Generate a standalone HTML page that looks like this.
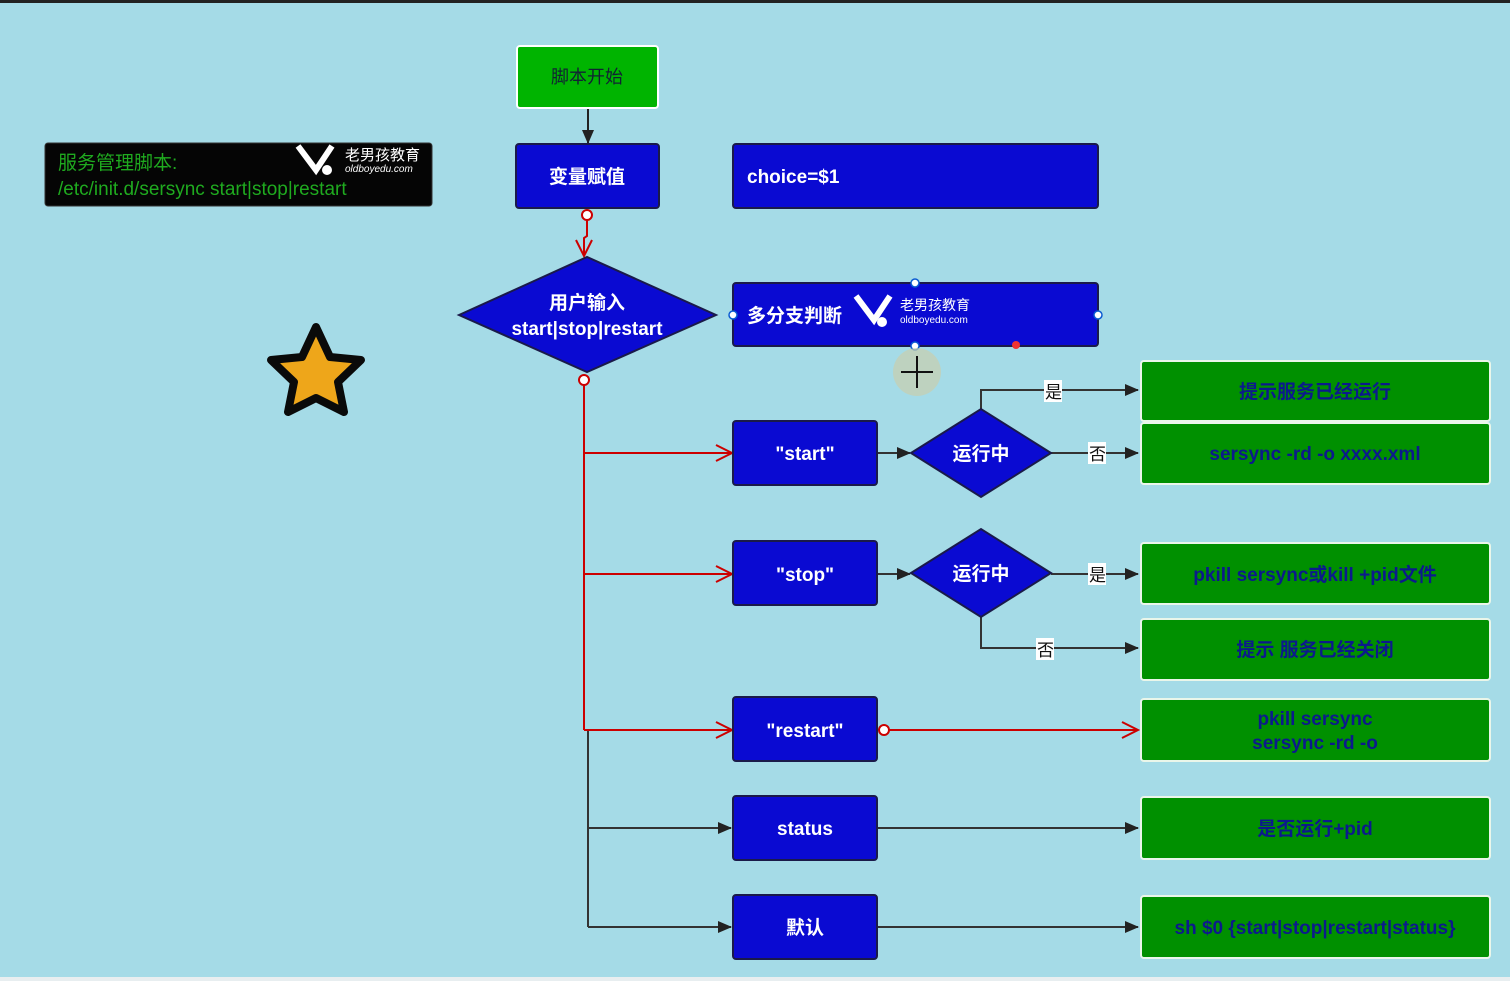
<!DOCTYPE html>
<html><head><meta charset="utf-8"><style>
body{margin:0;width:1510px;height:981px;overflow:hidden;background:#a5dbe7}
svg{display:block}
text{font-family:"Liberation Sans","Noto Sans CJK SC",sans-serif;font-weight:bold}
text.n{font-weight:normal}
</style></head><body>
<svg width="1510" height="981" viewBox="0 0 1510 981">
<defs>
<marker id="ab" markerWidth="14" markerHeight="12" refX="13" refY="6" orient="auto" markerUnits="userSpaceOnUse"><path d="M0,0 L14,6 L0,12 z" fill="#222"/></marker>
<marker id="ar" markerWidth="20" markerHeight="20" refX="18" refY="10" orient="auto" markerUnits="userSpaceOnUse"><path d="M2,2 L18,10 L2,18" fill="none" stroke="#c00" stroke-width="2"/></marker>
</defs>
<rect x="0" y="0" width="1510" height="981" fill="#a5dbe7"/>
<rect x="0" y="0" width="1510" height="3" fill="#222"/>
<rect x="0" y="977" width="1510" height="4" fill="#e8eef0"/>

<rect x="45" y="143" width="387" height="63" rx="3" fill="#050505" stroke="#333"/>
<text class="n" x="58" y="169" font-size="19" fill="#1faa1f">服务管理脚本:</text>
<text class="n" x="58" y="195" font-size="19" fill="#1faa1f">/etc/init.d/sersync start|stop|restart</text>
<path d="M298,146 L316,170 L332,146" fill="none" stroke="#fff" stroke-width="6"/>
<circle cx="327" cy="170" r="5" fill="#fff"/>
<text class="n" x="345" y="160" font-size="15" fill="#fff">老男孩教育</text>
<text class="n" x="345" y="172" font-size="10" fill="#fff" font-style="italic">oldboyedu.com</text>

<path d="M316,327 L330,357 L361,360 L338,382 L344,412 L316,398 L288,412 L294,382 L271,360 L302,357 z" fill="#eea61a" stroke="#0a0a0a" stroke-width="8" stroke-linejoin="round"/>

<line x1="588" y1="108" x2="588" y2="143" stroke="#222" stroke-width="2" marker-end="url(#ab)"/>
<path d="M587,219 L587,236 L584,238 L584,256" fill="none" stroke="#c00" stroke-width="2" marker-end="url(#ar)"/>
<circle cx="587" cy="215" r="5" fill="#fff" stroke="#c00" stroke-width="2"/>
<line x1="584" y1="385" x2="584" y2="730" stroke="#c00" stroke-width="2"/>
<line x1="588" y1="730" x2="588" y2="927" stroke="#333" stroke-width="2"/>
<circle cx="584" cy="380" r="5" fill="#fff" stroke="#c00" stroke-width="2"/>
<line x1="584" y1="453" x2="732" y2="453" stroke="#c00" stroke-width="2" marker-end="url(#ar)"/>
<line x1="584" y1="574" x2="732" y2="574" stroke="#c00" stroke-width="2" marker-end="url(#ar)"/>
<line x1="584" y1="730" x2="732" y2="730" stroke="#c00" stroke-width="2" marker-end="url(#ar)"/>
<line x1="588" y1="828" x2="731" y2="828" stroke="#333" stroke-width="2" marker-end="url(#ab)"/>
<line x1="588" y1="927" x2="731" y2="927" stroke="#333" stroke-width="2" marker-end="url(#ab)"/>
<line x1="877" y1="453" x2="910" y2="453" stroke="#333" stroke-width="2" marker-end="url(#ab)"/>
<line x1="877" y1="574" x2="910" y2="574" stroke="#333" stroke-width="2" marker-end="url(#ab)"/>
<path d="M981,409 L981,390 L1138,390" fill="none" stroke="#333" stroke-width="2" marker-end="url(#ab)"/>
<line x1="1051" y1="453" x2="1138" y2="453" stroke="#333" stroke-width="2" marker-end="url(#ab)"/>
<line x1="1051" y1="574" x2="1138" y2="574" stroke="#333" stroke-width="2" marker-end="url(#ab)"/>
<path d="M981,617 L981,648 L1138,648" fill="none" stroke="#333" stroke-width="2" marker-end="url(#ab)"/>
<line x1="889" y1="730" x2="1138" y2="730" stroke="#c00" stroke-width="2" marker-end="url(#ar)"/>
<circle cx="884" cy="730" r="5" fill="#fff" stroke="#c00" stroke-width="2"/>
<line x1="877" y1="828" x2="1138" y2="828" stroke="#333" stroke-width="2" marker-end="url(#ab)"/>
<line x1="877" y1="927" x2="1138" y2="927" stroke="#333" stroke-width="2" marker-end="url(#ab)"/>
<g font-size="17" fill="#111">
<rect x="1044" y="380" width="18" height="22" fill="#fff"/><text class="n" x="1045" y="398">是</text>
<rect x="1088" y="442" width="18" height="22" fill="#fff"/><text class="n" x="1089" y="460">否</text>
<rect x="1088" y="563" width="18" height="22" fill="#fff"/><text class="n" x="1089" y="581">是</text>
<rect x="1036" y="638" width="18" height="22" fill="#fff"/><text class="n" x="1037" y="656">否</text>
</g>

<rect x="517" y="46" width="141" height="62" rx="3" fill="#00b400" stroke="#fff" stroke-width="2"/>
<text class="n" x="587" y="83" font-size="18" fill="#123" text-anchor="middle">脚本开始</text>

<g fill="#0a0ad2" stroke="#1a1a4a" stroke-width="2">
<rect x="516" y="144" width="143" height="64" rx="3"/>
<rect x="733" y="144" width="365" height="64" rx="3"/>
<path d="M459,315 L587,257 L716,315 L587,372 z"/>
<rect x="733" y="283" width="365" height="63" rx="3"/>
<rect x="733" y="421" width="144" height="64" rx="3"/>
<path d="M911,453 L981,409 L1051,453 L981,497 z"/>
<rect x="733" y="541" width="144" height="64" rx="3"/>
<path d="M911,573 L981,529 L1051,573 L981,617 z"/>
<rect x="733" y="697" width="144" height="64" rx="3"/>
<rect x="733" y="796" width="144" height="64" rx="3"/>
<rect x="733" y="895" width="144" height="64" rx="3"/>
</g>
<g fill="#fff" font-size="19" text-anchor="middle">
<text x="587" y="183">变量赋值</text>
<text x="747" y="183" text-anchor="start">choice=$1</text>
<text x="587" y="309">用户输入</text>
<text x="587" y="335">start|stop|restart</text>
<text x="747" y="322" text-anchor="start">多分支判断</text>
<text x="805" y="460">"start"</text>
<text x="981" y="460">运行中</text>
<text x="805" y="581">"stop"</text>
<text x="981" y="580">运行中</text>
<text x="805" y="737">"restart"</text>
<text x="805" y="835">status</text>
<text x="805" y="934">默认</text>
</g>
<path d="M856,296 L874,320 L890,296" fill="none" stroke="#fff" stroke-width="6"/>
<circle cx="882" cy="322" r="5" fill="#fff"/>
<text class="n" x="900" y="310" font-size="14" fill="#fff">老男孩教育</text>
<text class="n" x="900" y="323" font-size="10" fill="#fff">oldboyedu.com</text>
<g fill="#fff" stroke="#0a5ad2" stroke-width="1.5">
<circle cx="915" cy="283" r="4"/><circle cx="733" cy="315" r="4"/><circle cx="1098" cy="315" r="4"/><circle cx="915" cy="346" r="4"/>
</g>
<circle cx="1016" cy="345" r="4" fill="#e33"/>
<circle cx="917" cy="372" r="24" fill="#c9cfae" opacity="0.7"/>
<path d="M917,356 V388 M901,372 H933" stroke="#111" stroke-width="2"/>

<g fill="#009000" stroke="#eaf6ea" stroke-width="2">
<rect x="1141" y="361" width="349" height="60" rx="3"/>
<rect x="1141" y="423" width="349" height="61" rx="3"/>
<rect x="1141" y="543" width="349" height="61" rx="3"/>
<rect x="1141" y="619" width="349" height="61" rx="3"/>
<rect x="1141" y="699" width="349" height="62" rx="3"/>
<rect x="1141" y="797" width="349" height="62" rx="3"/>
<rect x="1141" y="896" width="349" height="62" rx="3"/>
</g>
<g fill="#0c1a8c" font-size="19" text-anchor="middle">
<text x="1315" y="398">提示服务已经运行</text>
<text x="1315" y="460">sersync -rd -o  xxxx.xml</text>
<text x="1315" y="581">pkill sersync或kill +pid文件</text>
<text x="1315" y="656">提示 服务已经关闭</text>
<text x="1315" y="725">pkill sersync</text>
<text x="1315" y="749">sersync -rd -o</text>
<text x="1315" y="835">是否运行+pid</text>
<text x="1315" y="934">sh $0  {start|stop|restart|status}</text>
</g>
</svg>
</body></html>
